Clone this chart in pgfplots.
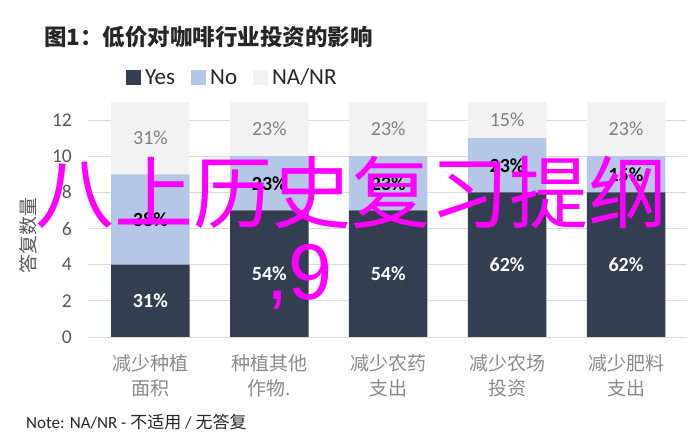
\documentclass[border=0pt]{standalone}
\usepackage{pgfplots}
\pgfplotsset{compat=1.18}
\usepackage{fontspec}
\setmainfont{Carlito}
\newfontfamily\cjk{Noto Sans CJK SC}
\newfontfamily\wmfont{Liberation Sans}
\definecolor{cYes}{HTML}{333F50}
\definecolor{cNo}{HTML}{B4C7E7}
\definecolor{cNA}{HTML}{F2F2F2}
\definecolor{cGrid}{HTML}{D9D9D9}
\definecolor{cTick}{HTML}{595959}
\definecolor{cCat}{HTML}{8A8A8A}
\definecolor{cPct}{HTML}{7F7F7F}
\definecolor{cDark}{HTML}{262626}
\definecolor{cMark}{HTML}{FF00FF}

\begin{document}
\begin{tikzpicture}
\useasboundingbox (0,0) rectangle (696bp,444bp);
\begin{axis}[
    at={(88bp,107bp)}, anchor=south west,
    scale only axis,
    x=118.9bp, y=18.08bp,
    xmin=-0.525, xmax=4.515, ymin=0, ymax=13,
    ybar stacked, bar width=0.66,
    axis line style={draw=none},
    major tick length=0pt,
    ytick={0,2,...,12},
    xtick={0,...,4},
    xticklabels={{减少种植\\面积},{种植其他\\作物.},{减少农药\\支出},{减少农场\\投资},{减少肥料\\支出}},
    ymajorgrids, grid style={cGrid, line width=0.8bp},
    yticklabel style={font=\fontsize{19.5bp}{19.5bp}\selectfont, text=cTick,
        /pgf/number format/assume math mode=true, inner sep=0pt, xshift=-16bp},
    xticklabel style={font=\cjk\fontsize{19bp}{25bp}\selectfont, text=cCat,
        align=center, inner sep=0pt, yshift=-17bp},
    legend columns=3,
    legend style={at={(0.24,1.104)}, anchor=center, draw=none, fill=none,
        font=\fontsize{23bp}{23bp}\selectfont, text=cDark,
        nodes={inner sep=1.5bp},
        /tikz/every odd column/.append style={column sep=3bp},
        /tikz/every even column/.append style={column sep=14bp}},
    legend image code/.code={\fill[#1] (0bp,-7.5bp) rectangle (15bp,7.5bp);},
    point meta=explicit symbolic,
    nodes near coords,
]
\addplot[fill=cYes, draw=none,
    every node near coord/.style={font=\bfseries\fontsize{20bp}{20bp}\selectfont,
        text=white, anchor=center}]
coordinates {(0,4) [31\%] (1,7) [54\%] (2,7) [54\%] (3,8) [62\%] (4,8) [62\%]};
\addplot[fill=cNo, draw=none,
    every node near coord/.style={font=\bfseries\fontsize{20bp}{20bp}\selectfont,
        text=black, anchor=center}]
coordinates {(0,5) [38\%] (1,3) [23\%] (2,3) [23\%] (3,3) [23\%] (4,2) [15\%]};
\addplot[fill=cNA, draw=none,
    every node near coord/.style={font=\fontsize{20bp}{20bp}\selectfont,
        text=cPct, anchor=center}]
coordinates {(0,4) [31\%] (1,3) [23\%] (2,3) [23\%] (3,2) [15\%] (4,3) [23\%]};
\legend{Yes,No,NA/NR}
\end{axis}

% title, y label, note
\node[anchor=west, inner sep=0pt, font=\cjk\bfseries\fontsize{22.5bp}{22.5bp}\selectfont, text=cDark]
    at (44bp,407bp) {图1：低价对咖啡行业投资的影响};
\node[rotate=90, inner sep=0pt, font=\cjk\fontsize{19bp}{19bp}\selectfont, text=cTick]
    at (28bp,208bp) {答复数量};
\node[anchor=west, inner sep=0pt, font=\fontsize{17bp}{17bp}\selectfont, text=cDark]
    at (26bp,22bp) {Note: NA/NR - {\cjk 不适用} / {\cjk 无答复}};

% overlaid watermark
\node[inner sep=0pt, font=\cjk\fontsize{79bp}{79bp}\selectfont, text=cMark]
    at (351.5bp,252bp) {八上历史复习提纲};
\node[anchor=base west, inner sep=0pt, font=\wmfont\fontsize{79bp}{79bp}\selectfont, text=cMark]
    at (266bp,144bp) {,9};
\end{tikzpicture}
\end{document}
